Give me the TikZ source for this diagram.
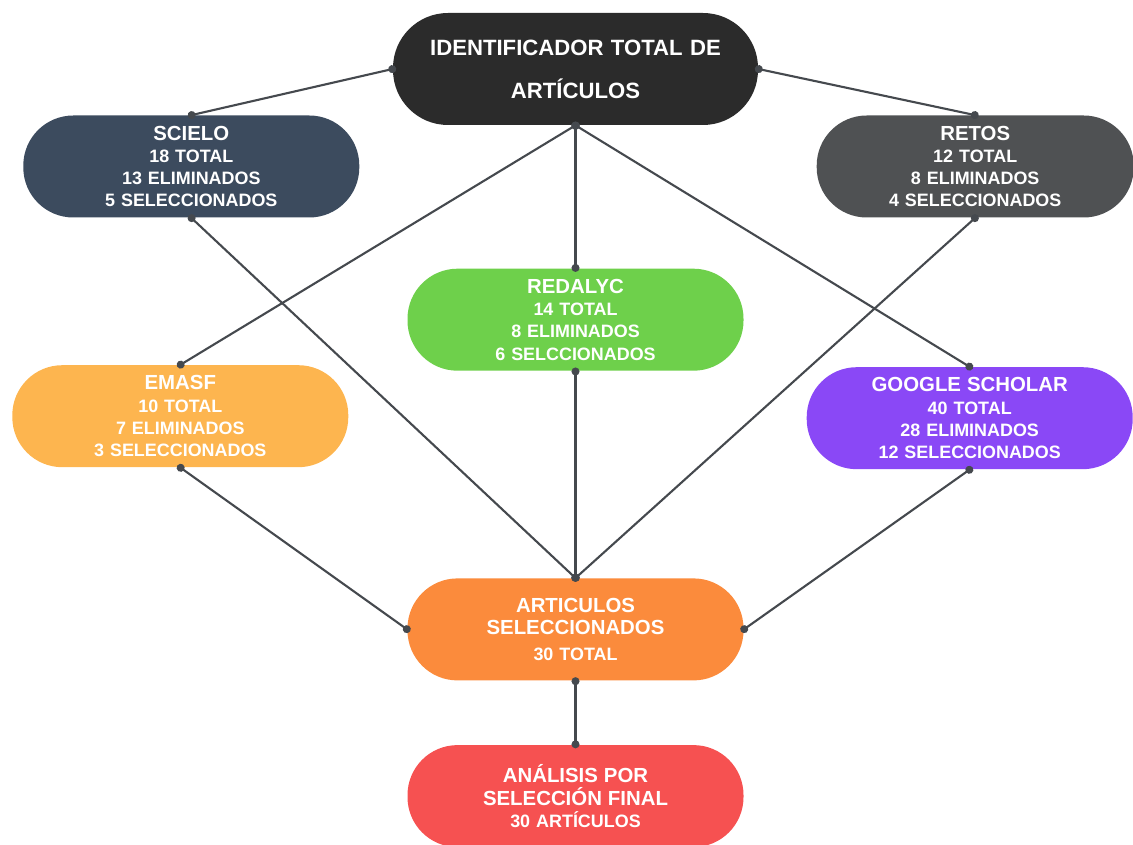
\documentclass[tikz,border=0pt]{standalone}
\usepackage{fontspec}
\setmainfont{Liberation Sans}
\usetikzlibrary{arrows.meta, positioning}

\definecolor{identgray}{HTML}{2B2B2B}
\definecolor{scieloblue}{HTML}{3C4B5E}
\definecolor{retosgray}{HTML}{4F5153}
\definecolor{redalycgreen}{HTML}{6ED04B}
\definecolor{emasfyellow}{HTML}{FDB54F}
\definecolor{scholarpurple}{HTML}{8A48F6}
\definecolor{selectedorange}{HTML}{FB8B3C}
\definecolor{finalred}{HTML}{F65151}
\definecolor{linegray}{HTML}{45494E}

\newcommand{\ttl}[1]{{\fontsize{11.6}{12.7}\selectfont #1}}

\begin{document}
\begin{tikzpicture}[
    % Define the style for each block
    pill/.style={rectangle, rounded corners=1cm, text=white, font=\fontsize{10.2}{12.7}\selectfont\bfseries, text centered, text width=6cm, minimum width=6.72cm, minimum height=2.04cm, inner sep=0pt},
    header/.style={pill, rounded corners=1.1cm, font=\fontsize{12.6}{24.4}\selectfont\bfseries, text width=7cm, minimum width=7.3cm, minimum height=2.24cm},
    connector/.style={{Circle[length=4.5pt]}-{Circle[length=4.5pt]}, line width=1.2pt, draw=linegray, shorten <=-2pt, shorten >=-2pt},
    node distance=2cm
]
\useasboundingbox (0,0) rectangle (22.66,-16.9);

% Place nodes using explicit positioning
\node [header, fill=identgray] (Ident) at (11.51,-1.38) {IDENTIFICADOR TOTAL DE\\ARTÍCULOS};

\node [pill, fill=scieloblue, left=0.66cm of Ident, yshift=-1.95cm] (Scielo) {\ttl{SCIELO}\\18 TOTAL\\13 ELIMINADOS\\5 SELECCIONADOS};
\node [pill, fill=retosgray, minimum width=6.34cm, right=1.16cm of Ident, yshift=-1.95cm] (Retos) {\ttl{RETOS}\\12 TOTAL\\8 ELIMINADOS\\4 SELECCIONADOS};

\node [pill, fill=redalycgreen, below=2.86cm of Ident] (Redalyc) {\ttl{REDALYC}\\14 TOTAL\\8 ELIMINADOS\\6 SELCCIONADOS};
\node [pill, fill=emasfyellow, below=2.94cm of Scielo, xshift=-0.22cm] (Emasf) {\ttl{EMASF}\\10 TOTAL\\7 ELIMINADOS\\3 SELECCIONADOS};
\node [pill, fill=scholarpurple, minimum width=6.52cm, below=2.98cm of Retos, xshift=-0.11cm] (Scholar) {\ttl{GOOGLE SCHOLAR}\\40 TOTAL\\28 ELIMINADOS\\12 SELECCIONADOS};

\node [pill, fill=selectedorange, below=4.14cm of Redalyc] (Selected) {\ttl{ARTICULOS}\\\ttl{SELECCIONADOS}\\[2pt]30 TOTAL};
\node [pill, fill=finalred, below=1.28cm of Selected] (Final) {\ttl{ANÁLISIS POR}\\\ttl{SELECCIÓN FINAL}\\30 ARTÍCULOS};

% Draw connectors
\draw [connector] (Ident.west) -- (Scielo.north);
\draw [connector] (Ident.east) -- (Retos.north);
\draw [connector] (Ident.south) -- (Redalyc.north);
\draw [connector] (Ident.south) -- (Emasf.north);
\draw [connector] (Ident.south) -- (Scholar.north);

\draw [connector] (Scielo.south) -- (Selected.north);
\draw [connector] (Redalyc.south) -- (Selected.north);
\draw [connector] (Retos.south) -- (Selected.north);
\draw [connector] (Emasf.south) -- (Selected.west);
\draw [connector] (Scholar.south) -- (Selected.east);

\draw [connector] (Selected.south) -- (Final.north);
\end{tikzpicture}
\end{document}
